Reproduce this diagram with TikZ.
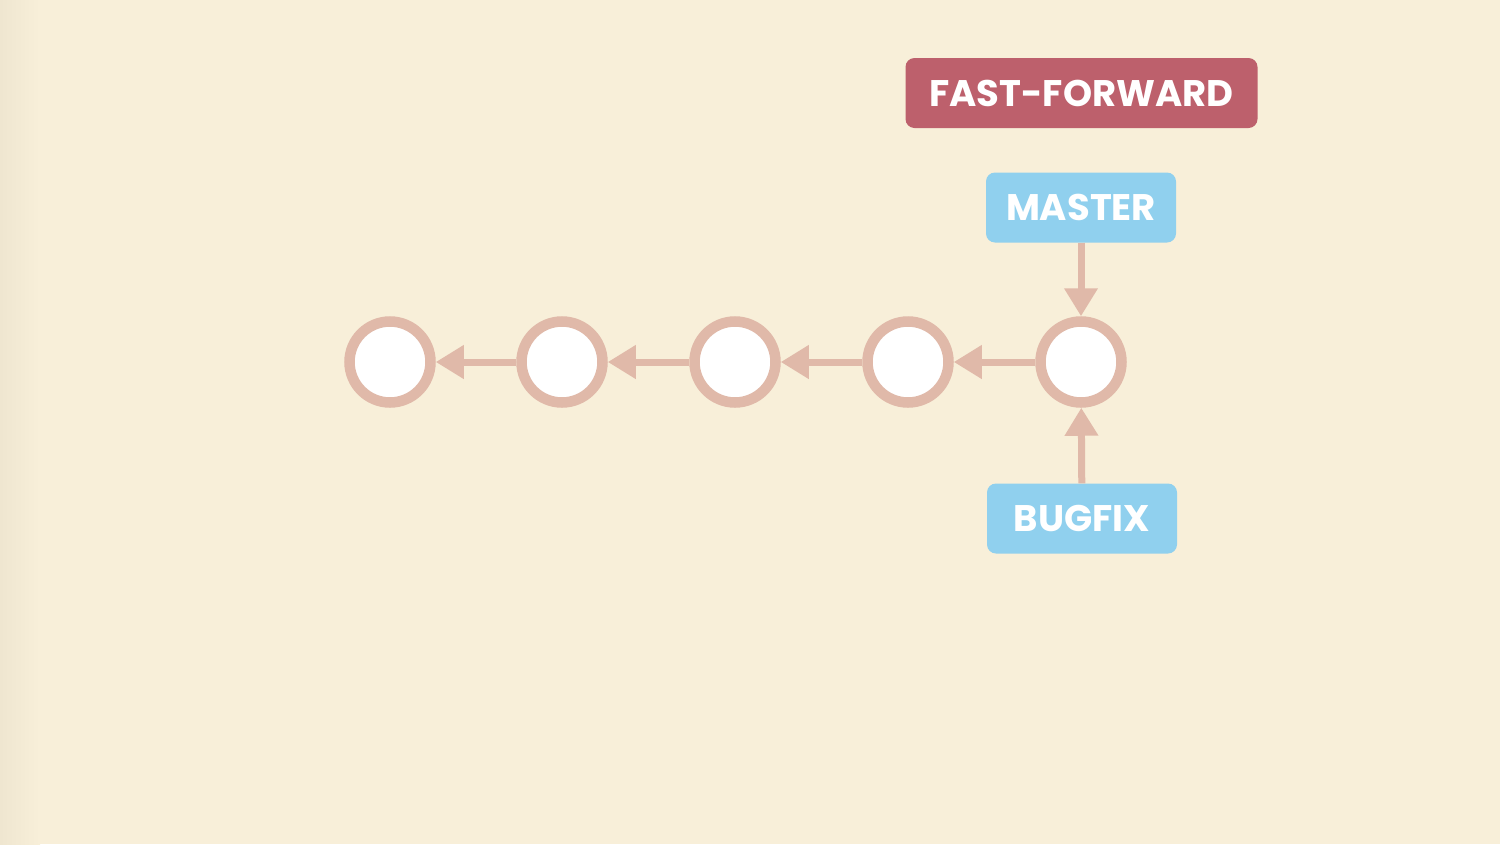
\documentclass[tikz,border=0pt]{standalone}
\usepackage{fontspec}
\newfontfamily\pop{Poppins}
\usetikzlibrary{arrows.meta}
\definecolor{bg}{HTML}{F8EFD9}
\definecolor{bgdark}{HTML}{EFE6D0}
\definecolor{ring}{HTML}{E0B9A9}
\definecolor{ffred}{HTML}{BD606C}
\definecolor{lblue}{HTML}{90D0EE}
\tikzset{
  commit/.style={circle, draw=ring, line width=10.5pt, fill=white, minimum size=81pt, inner sep=0pt},
  link/.style={draw=ring, line width=7pt, -{Triangle[length=28pt,width=32pt]}},
  tag/.style={rounded corners=9pt, text=white, font=\pop\bfseries\fontsize{37}{42}\selectfont, inner sep=0pt, anchor=center},
}
\begin{document}
\begin{tikzpicture}[x=1pt,y=-1pt]
\fill[bg] (0,0) rectangle (1500,844);
\shade[left color=bgdark, right color=bg] (0,0) rectangle (40,844);
\useasboundingbox (0,0) rectangle (1500,844);
\node[commit] (c1) at (390,362) {};
\node[commit] (c2) at (562,362) {};
\node[commit] (c3) at (735,362) {};
\node[commit] (c4) at (908,362) {};
\node[commit] (c5) at (1081,362) {};
\node[tag, fill=ffred, minimum width=352pt, minimum height=70pt] (ff) at (1081.5,93) {FAST-FORWARD};
\node[tag, fill=lblue, minimum width=190pt, minimum height=70pt] (master) at (1081,207.5) {MASTER};
\node[tag, fill=lblue, minimum width=190pt, minimum height=70pt] (bugfix) at (1082,518.5) {BUGFIX};
\draw[link] (c2) -- (c1);
\draw[link] (c3) -- (c2);
\draw[link] (c4) -- (c3);
\draw[link] (c5) -- (c4);
\draw[link] (master) -- (c5);
\draw[link] (bugfix) -- (c5);
\end{tikzpicture}
\end{document}
